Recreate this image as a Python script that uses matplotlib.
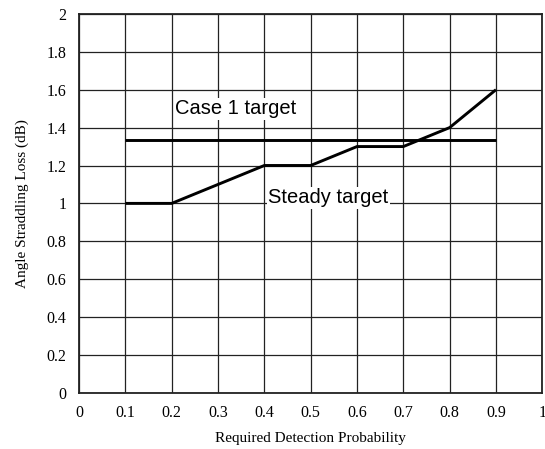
# Angle straddling loss vs required detection probability

import numpy as np
import matplotlib.pyplot as plt

# Data
pd_steady = [0.1, 0.2, 0.4, 0.5, 0.6, 0.7, 0.8, 0.9]
loss_steady = [1.0, 1.0, 1.2, 1.2, 1.3, 1.3, 1.4, 1.6]

pd_case1 = [0.1, 0.9]
loss_case1 = [1.335, 1.335]

x_ticks = np.round(np.arange(0, 1.01, 0.1), 1)
x_tick_labels = ['0', '0.1', '0.2', '0.3', '0.4', '0.5', '0.6', '0.7', '0.8', '0.9', '1']
y_ticks = np.round(np.arange(0, 2.01, 0.2), 1)
y_tick_labels = ['0', '0.2', '0.4', '0.6', '0.8', '1', '1.2', '1.4', '1.6', '1.8', '2']

fig = plt.figure(figsize=(5.45, 4.49), dpi=100)
ax = fig.add_axes([0.145, 0.125, 0.85, 0.844])

ax.plot(pd_case1, loss_case1, color='black', linewidth=2.1, solid_capstyle='butt')
ax.plot(pd_steady, loss_steady, color='black', linewidth=2.1, solid_capstyle='butt')

ax.set_xlim(0, 1)
ax.set_ylim(0, 2)
ax.set_xticks(x_ticks)
ax.set_xticklabels(x_tick_labels)
ax.set_yticks(y_ticks)
ax.set_yticklabels(y_tick_labels)
ax.tick_params(length=0, pad=9, labelsize=11.5)
for lbl in ax.get_xticklabels() + ax.get_yticklabels():
    lbl.set_family('Liberation Serif')

ax.grid(True, color='#222222', linewidth=0.9)
ax.set_axisbelow(True)
for s in ax.spines.values():
    s.set_linewidth(1.3)
    s.set_color('#222222')

ax.set_xlabel('Required Detection Probability', family='Liberation Serif', fontsize=11, labelpad=8)
ax.set_ylabel('Angle Straddling Loss (dB)', family='Liberation Serif', fontsize=11, labelpad=13)

ax.text(0.207, 1.50, 'Case 1 target', family='Liberation Sans', fontsize=14.5,
        va='center', ha='left', bbox=dict(facecolor='white', edgecolor='none', pad=1))
ax.text(0.408, 1.03, 'Steady target', family='Liberation Sans', fontsize=14.5,
        va='center', ha='left', bbox=dict(facecolor='white', edgecolor='none', pad=1))

fig.savefig('out.png', dpi=100)
